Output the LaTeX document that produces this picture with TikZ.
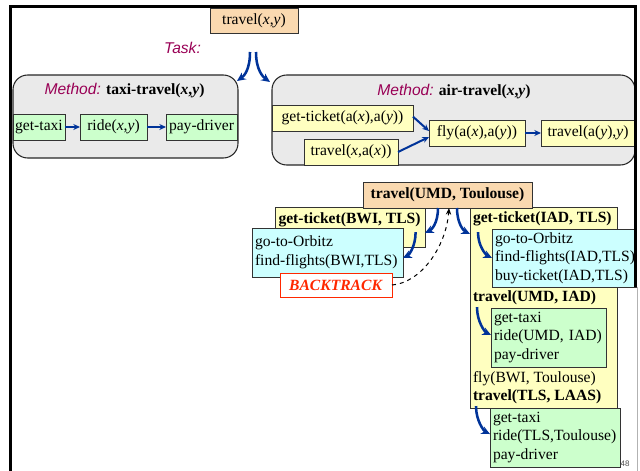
\documentclass[tikz,border=0pt]{standalone}
\usepackage{fontspec}
\setmainfont{Liberation Serif}
\setsansfont{Liberation Sans}
\usetikzlibrary{arrows.meta}

\definecolor{peach}{RGB}{250,217,176}
\definecolor{lemon}{RGB}{255,255,192}
\definecolor{mint}{RGB}{204,255,204}
\definecolor{aqua}{RGB}{204,255,255}
\definecolor{panel}{RGB}{234,234,234}
\definecolor{plum}{RGB}{153,0,85}
\definecolor{navy}{RGB}{0,51,153}
\definecolor{alert}{RGB}{255,40,0}

\newcommand\bodyfont{\fontsize{11.7}{14}\selectfont}
\newcommand\mword[1]{{\sffamily\itshape\color{plum}#1}}
\newcommand\vx{\textit{x}}
\newcommand\vy{\textit{y}}

\begin{document}
\begin{tikzpicture}[x=0.75pt,y=-0.75pt,
  every node/.style={font=\bodyfont, inner sep=0pt, outer sep=0pt},
  box/.style={draw=black!80, line width=0.7pt},
  sbox/.style={box, align=center},
  lbox/.style={box, anchor=north west, align=left, inner xsep=2.25pt,
    execute at begin node={\exhyphenpenalty=10000 \hyphenpenalty=10000 }},
  method/.style={draw=black!85, fill=panel, line width=0.8pt, rounded corners=11pt},
  txt/.style={anchor=west},
  flow/.style={-{Stealth[length=5pt,width=4.5pt]}, navy, line width=1.5pt},
  bendarrow/.style={-{Stealth[length=6.5pt,width=6pt]}, navy, line width=1.9pt},
  retreat/.style={-{Stealth[length=5pt,width=4pt]}, dashed, black, line width=0.75pt},
]
\useasboundingbox (0,0) rectangle (640,471);

% ---------- task and its two methods ----------
\node[sbox, fill=peach, minimum width=66pt, minimum height=18.75pt] (task) at (254,20.5)
  {travel(\vx,\vy)};
\node[anchor=center] (tasklbl) at (182.5,48) {\mword{Task:}};

\node[method, minimum width=168.75pt, minimum height=62.25pt] (taxi) at (125.5,116.5) {};
\node (taxilbl) at (124.5,90.5) {\mword{Method:} \textbf{taxi-travel(\vx,\vy)}};
\node[sbox, fill=mint, minimum width=39pt, minimum height=19.5pt] (gettaxi) at (39,127) {get-taxi};
\node[sbox, fill=mint, minimum width=50.25pt, minimum height=19.5pt] (ride) at (113.5,127) {ride(\vx,\vy)};
\node[sbox, fill=mint, minimum width=53.25pt, minimum height=19.5pt] (pay) at (201.5,127) {pay-driver};

\node[method, minimum width=272.25pt, minimum height=67.5pt] (air) at (453.5,120) {};
\node (airlbl) at (454,91.5) {\mword{Method:} \textbf{air-travel(\vx,\vy)}};
\node[sbox, fill=lemon, minimum width=105.75pt, minimum height=19.5pt] (gta) at (342.5,118)
  {get-ticket(a(\vx),a(\vy))};
\node[sbox, fill=lemon, minimum width=70.5pt, minimum height=19.5pt] (txa) at (351,152)
  {travel(\vx,a(\vx))};
\node[sbox, fill=lemon, minimum width=72pt, minimum height=19.5pt] (fly) at (477,133)
  {fly(a(\vx),a(\vy))};
\node[sbox, fill=lemon, minimum width=70.5pt, minimum height=19.5pt] (tay) at (588,133)
  {travel(a(\vy),\vy)};

\draw[bendarrow] ([xshift=-3pt,yshift=-14.25pt]task.south)
  .. controls +(0,18) and +(7,-5) .. ([xshift=-0.75pt,yshift=-4.5pt]taxi.north east);
\draw[bendarrow] ([xshift=1.5pt,yshift=-14.25pt]task.south)
  .. controls +(0,18) and +(-7,-5) .. ([xshift=-1.5pt,yshift=-5.25pt]air.north west);

\draw[flow] (gettaxi.east) -- (ride.west);
\draw[flow] (ride.east) -- (pay.west);
\draw[flow] ([yshift=1pt]gta.east) -- ([yshift=1.5pt]fly.west);
\draw[flow] (txa.east) -- ([yshift=-3pt]fly.west);
\draw[flow] (fly.east) -- (tay.west);

% ---------- a worked decomposition ----------
\node[box, fill=lemon, anchor=north west, minimum width=112.5pt, minimum height=30pt] (ytbwi) at (275,207) {};
\node[box, fill=lemon, anchor=north west, minimum width=110.25pt, minimum height=150.75pt] (ytiad) at (470,207) {};
\node[sbox, fill=peach, minimum width=126.75pt, minimum height=19.5pt] (umd) at (447.5,195)
  {\textbf{travel(UMD, Toulouse)}};

\node[txt] (lblbwi) at (278.5,220) {\textbf{get-ticket(BWI, TLS)}};
\node[txt] (lbliad) at (473,219) {\textbf{get-ticket(IAD, TLS)}};
\node[txt] (lblui) at (473,298) {\textbf{travel(UMD, IAD)}};
\node[txt] (lblfly) at (473,379) {fly(BWI, Toulouse)};
\node[txt] (lbltl) at (473,397) {\textbf{travel(TLS, LAAS)}};

\node[lbox, fill=aqua, text width=108.75pt, minimum height=36.75pt] (cyb) at (252,228)
  {go-to-Orbitz\\find-flights(BWI,TLS)};
\node[lbox, fill=aqua, text width=103.5pt, minimum height=43.5pt] (cyi) at (492,229)
  {go-to-Orbitz\\find-flights(IAD,TLS)\\buy-ticket(IAD,TLS)};
\node[lbox, fill=mint, text width=81.75pt, minimum height=44.25pt] (gr1) at (491,308)
  {get-taxi\\ride(UMD,~IAD)\\pay-driver};
\node[lbox, fill=mint, text width=93pt, minimum height=44.25pt] (gr2) at (490,408)
  {get-taxi\\ride(TLS,Toulouse)\\pay-driver};

\node[draw=alert, fill=white, line width=0.7pt, minimum width=84pt, minimum height=18pt,
  text=alert] (bt) at (336,285) {\textbf{\textit{BACKTRACK}}};

\draw[bendarrow] ([xshift=-7.125pt]umd.south)
  .. controls +(0,16) and +(6,-3) .. ([yshift=-4.5pt]ytbwi.east);
\draw[bendarrow] ([xshift=7.125pt]umd.south)
  .. controls +(0,16) and +(-6,-3) .. ([yshift=-20.25pt]ytiad.north west);
\draw[bendarrow] ([xshift=-3.75pt,yshift=-3.75pt]lblbwi.south east)
  .. controls +(0,14) and +(6,-3) .. ([yshift=-4.125pt]cyb.east);
\draw[bendarrow] ([xshift=3.75pt,yshift=-4.5pt]lbliad.south west)
  .. controls +(0,14) and +(-6,-3) .. (cyi.west);
\draw[bendarrow] ([xshift=3pt,yshift=-1.5pt]lblui.south west)
  .. controls +(0,15) and +(-6,-3) .. ([yshift=1.875pt]gr1.west);
\draw[bendarrow] ([xshift=2.25pt,yshift=-1.5pt]lbltl.south west)
  .. controls +(0,15) and +(-6,-3) .. ([yshift=2.6pt]gr2.west);

\draw[retreat] (bt.east)
  .. controls +(28,-2) and +(-3,40) .. ([xshift=1.125pt]umd.south);

\node[font=\sffamily\fontsize{6}{6}\selectfont, text=black!70] (pageno) at (625,464) {48};

% ---------- page frame ----------
\draw[line width=2.25pt, line join=miter] (10.7,471) -- (10.7,6.5) -- (635.5,6.5) -- (635.5,287);
\draw[black!30, line width=0.6pt] (637.5,287) -- (637.5,471);
\end{tikzpicture}
\end{document}
